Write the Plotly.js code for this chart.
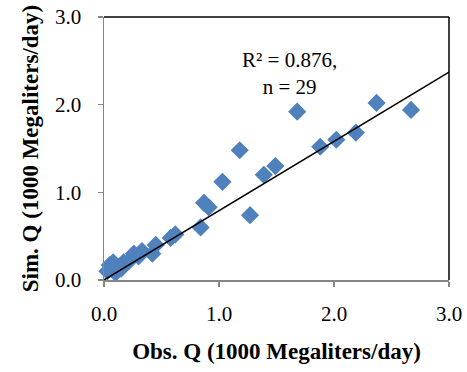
<!DOCTYPE html>
<html>
<head>
<meta charset="utf-8">
<script src="https://cdn.plot.ly/plotly-3.0.1.min.js"></script>
<style>html,body{margin:0;padding:0;background:#fff;}#chart{width:467px;height:372px;}</style>
</head>
<body>
<div id="chart"></div>
<script>
const obsQ = [0.03, 0.05, 0.08, 0.10, 0.12, 0.15, 0.17, 0.22, 0.26, 0.30, 0.33, 0.42, 0.45, 0.58, 0.62, 0.84, 0.87, 0.91, 1.03, 1.18, 1.27, 1.39, 1.49, 1.68, 1.88, 2.02, 2.19, 2.37, 2.67];
const simQ = [0.10, 0.17, 0.20, 0.08, 0.15, 0.13, 0.20, 0.22, 0.30, 0.27, 0.33, 0.30, 0.40, 0.48, 0.52, 0.60, 0.88, 0.83, 1.12, 1.48, 0.74, 1.20, 1.30, 1.92, 1.52, 1.60, 1.68, 2.02, 1.94];
const trendX = [0, 3];
const trendSlope = 0.79;
const tickVals = [0, 1, 2, 3];
const tickText = ['0.0', '1.0', '2.0', '3.0'];

const serif = '"Liberation Serif", "Times New Roman", serif';

const traces = [
  {
    x: obsQ, y: simQ, type: 'scatter', mode: 'markers',
    marker: {symbol: 'diamond', size: 14, color: '#4F81BD', line: {width: 0}},
    hoverinfo: 'none', cliponaxis: false
  },
  {
    x: trendX, y: trendX.map(v => v * trendSlope), type: 'scatter', mode: 'lines',
    line: {color: '#000000', width: 1.5}, hoverinfo: 'none'
  }
];

const axisCommon = {
  range: [0, 3], tickvals: tickVals, ticktext: tickText,
  showgrid: false, zeroline: false, showline: true,
  linecolor: '#868686', linewidth: 1.5,
  ticks: 'outside', ticklen: 5, tickcolor: '#868686', tickwidth: 1.5,
  tickfont: {family: serif, size: 21, color: '#000'}, fixedrange: true
};

const layout = {
  width: 467, height: 372,
  margin: {l: 104, r: 18, t: 17, b: 92},
  paper_bgcolor: '#fff', plot_bgcolor: '#fff',
  showlegend: false,
  xaxis: Object.assign({}, axisCommon, {
    ticklabelstandoff: 9,
    title: {text: '<b>Obs. Q (1000 Megaliters/day)</b>', font: {family: serif, size: 23, color: '#000'}, standoff: 18}
  }),
  yaxis: Object.assign({}, axisCommon, {
    ticklabelstandoff: 12,
    title: {text: '<b>Sim. Q (1000 Megaliters/day)</b>', font: {family: serif, size: 23, color: '#000'}, standoff: 10}
  }),
  shapes: [
    {type: 'line', xref: 'paper', yref: 'paper', x0: 0, x1: 1, y0: 1, y1: 1, line: {color: '#000', width: 1.5}},
    {type: 'line', xref: 'paper', yref: 'paper', x0: 1, x1: 1, y0: 0, y1: 1, line: {color: '#000', width: 1.5}}
  ],
  annotations: [
    {x: 1.61, y: 2.36, xref: 'x', yref: 'y', text: 'R² = 0.876,<br>n = 29', showarrow: false,
     font: {family: serif, size: 21, color: '#000'}, align: 'center'}
  ]
};

Plotly.newPlot('chart', traces, layout, {displayModeBar: false, staticPlot: true});
</script>
</body>
</html>
